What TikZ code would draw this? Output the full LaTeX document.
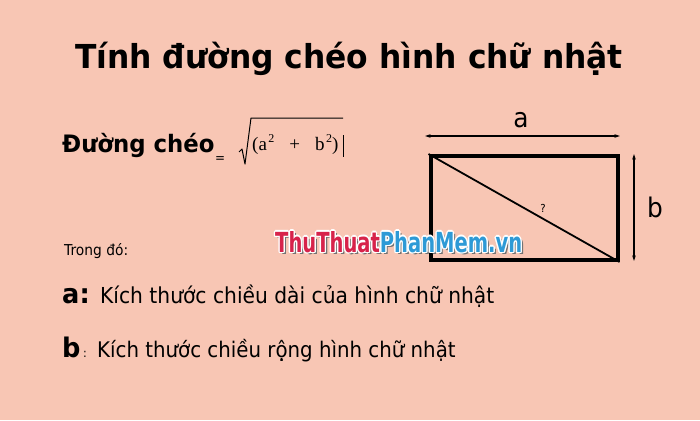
\documentclass[tikz,border=0pt]{standalone}
\usepackage{fontspec}
\setmainfont{DejaVu Sans}[FakeStretch=0.92, BoldFeatures={FakeStretch=0.95}]
\newfontfamily\serifmath{Liberation Serif}
\usetikzlibrary{arrows.meta}
\definecolor{bg}{HTML}{F8C6B4}
\definecolor{wmred}{HTML}{D7234B}
\definecolor{wmblue}{HTML}{2E9AD6}
\newcommand\wmcolored{\resizebox{247pt}{21pt}{\bfseries{\color{wmred}ThuThuat}{\color{wmblue}PhanMem.vn}}}
\newcommand\wmplain[1]{\resizebox{247pt}{21pt}{\bfseries\color{#1}ThuThuatPhanMem.vn}}
\newcommand\wmoff[3]{\rlap{\hspace{#1}\raisebox{#2}{#3}}}
\newcommand\wmall{%
  \wmoff{2.5pt}{-2.5pt}{\color{black!55}\wmplain{black!55}}%
  \wmoff{-1.4pt}{0pt}{\wmplain{white}}\wmoff{1.4pt}{0pt}{\wmplain{white}}%
  \wmoff{0pt}{1.4pt}{\wmplain{white}}\wmoff{0pt}{-1.4pt}{\wmplain{white}}%
  \wmoff{1pt}{1pt}{\wmplain{white}}\wmoff{-1pt}{-1pt}{\wmplain{white}}%
  \wmoff{1pt}{-1pt}{\wmplain{white}}\wmoff{-1pt}{1pt}{\wmplain{white}}%
  \wmcolored}
\newcommand\sq{\hspace{1.5pt}\raisebox{0.42em}{\fontsize{12}{13}\selectfont 2}}
\begin{document}
\begin{tikzpicture}[x=1pt,y=-1pt,
  txt/.style={inner sep=0pt, anchor=base west},
  dimarrow/.style={line width=1.1pt, {Stealth[length=5.5pt,width=3.5pt]}-{Stealth[length=5.5pt,width=3.5pt]}}]
\fill[bg] (0,0) rectangle (700,420);
\node[inner sep=0pt, anchor=base, font=\fontsize{33}{36}\selectfont\bfseries] (title) at (349,68) {Tính đường chéo hình chữ nhật};
\node[txt, font=\fontsize{24}{26}\selectfont\bfseries] (dc) at (62,152) {Đường chéo};
\node[txt, font=\fontsize{13}{14}\selectfont] (eq) at (215,162) {=};
\draw[line width=1pt, line join=round] (239,152) -- (242,149) -- (245,164) -- (251,118) -- (343,118);
\node[txt, font=\fontsize{19}{21}\selectfont\serifmath] (formula) at (252,150) {(a\sq\hspace{15pt}+\hspace{15pt}b\sq)};
\draw[line width=0.9pt] (343,135) -- (343,157);
\node[draw, line width=4pt, minimum width=187pt, minimum height=104pt, inner sep=0pt] (rect) at (524,208) {};
\draw[line width=1.8pt] (rect.north west) -- (rect.south east);
\node[inner sep=0pt, font=\fontsize{11}{12}\selectfont] (q) at (543,208) {?};
\coordinate (aL) at (425,136);
\coordinate (aR) at (620,136);
\draw[dimarrow] (aL) -- (aR);
\node[inner sep=0pt, font=\fontsize{27}{30}\selectfont] (la) at (521,120) {a};
\coordinate (bT) at (634,154);
\coordinate (bB) at (634,261);
\draw[dimarrow] (bT) -- (bB);
\node[inner sep=0pt, font=\fontsize{27}{30}\selectfont] (lb) at (655,207) {b};
\node[txt, font=\fontsize{15}{17}\selectfont] (trong) at (64,255) {Trong đó:};
\node[txt, font=\fontsize{27}{30}\selectfont\bfseries] (ka) at (62,303) {a:};
\node[txt, font=\fontsize{22}{24}\selectfont] (ta) at (100,303) {Kích thước chiều dài của hình chữ nhật};
\node[txt, font=\fontsize{27}{30}\selectfont\bfseries] (kb) at (62,357) {b};
\node[txt, font=\fontsize{12}{14}\selectfont] (kbc) at (83,357) {:};
\node[txt, font=\fontsize{21.5}{24}\selectfont] (tb) at (97,357) {Kích thước chiều rộng hình chữ nhật};
% watermark
\node[txt] (wm) at (275,252) {\wmall};
\end{tikzpicture}
\end{document}
